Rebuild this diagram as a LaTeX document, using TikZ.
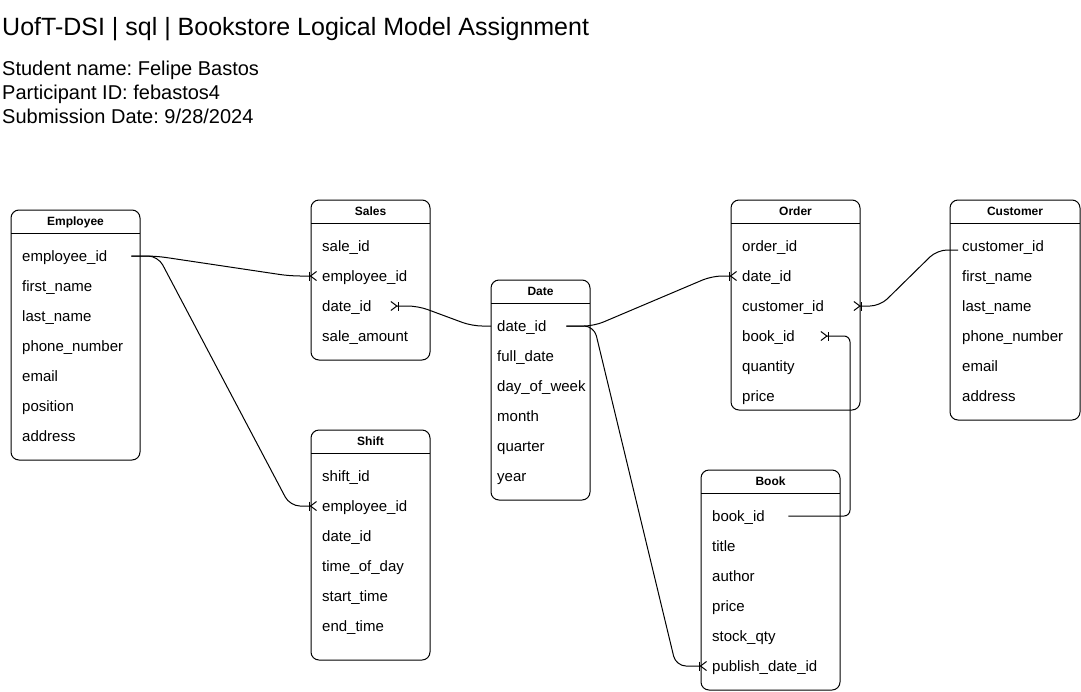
\documentclass[tikz,border=0pt]{standalone}
\usepackage{fontspec}
\setmainfont{Liberation Sans}
\usepackage{tikz}
\usetikzlibrary{arrows.meta, calc}
\frenchspacing
\newcommand{\entitybox}[6]{%
  \draw[entity] (#2, #3) rectangle (#4, #5);
  \draw[line width=1pt] (#2, #3 + 23) -- (#4, #3 + 23);
  \node[head] (#1) at ({(#2 + #4) / 2}, #3 + 15.5) {#6};
}
\tikzset{
  entity/.style={draw, fill=white, rounded corners=8pt, line width=1pt},
  head/.style={anchor=base, inner sep=0pt, font=\fontsize{12}{14}\selectfont\bfseries},
  field/.style={anchor=west, inner xsep=11pt, inner ysep=0pt, text height=13pt,
    text depth=2pt, align=left, font=\fontsize{15}{18}\selectfont},
  rel/.style={line width=1pt, rounded corners=10pt,
    -{Bar[width=9pt, sep=0pt] Straight Barb[reversed, length=6pt, width=9pt]}},
}

\begin{document}
\begin{tikzpicture}[x=1pt, y=-1pt]

  \useasboundingbox (0, 0) rectangle (1081, 691);
  \fill[white] (0, 0) rectangle (1081, 691);

  \node[anchor=base west, inner sep=0pt, font=\fontsize{25}{30}\selectfont] (title)
    at (2, 35) {UofT-DSI | sql | Bookstore Logical Model Assignment};
  \node[anchor=base west, inner sep=0pt, font=\fontsize{20}{24}\selectfont] (student)
    at (2, 75) {Student name: Felipe Bastos};
  \node[anchor=base west, inner sep=0pt, font=\fontsize{20}{24}\selectfont] (participant)
    at (2, 99) {Participant ID: febastos4};
  \node[anchor=base west, inner sep=0pt, font=\fontsize{20}{24}\selectfont] (submission)
    at (2, 123) {Submission Date: 9/28/2024};

  % tables
  \entitybox{employee}{11}{210}{140}{460}{Employee}
  \foreach \f [count=\i] in {employee\_id, first\_name, last\_name, phone\_number,
      email, position, address}
    \node[field, text width=107pt] (emp\i) at (11, 226 + 30 * \i) {\f};

  \entitybox{sales}{311}{200}{430}{360}{Sales}
  \foreach \f [count=\i] in {sale\_id, employee\_id, date\_id, sale\_amount}
    \node[field, text width=97pt] (sales\i) at (311, 216 + 30 * \i) {\f};

  \entitybox{shift}{311}{430}{430}{660}{Shift}
  \foreach \f [count=\i] in {shift\_id, employee\_id, date\_id, time\_of\_day,
      start\_time, end\_time}
    \node[field, text width=97pt] (shift\i) at (311, 446 + 30 * \i) {\f};

  \entitybox{date}{491}{280}{590}{500}{Date}
  \foreach \f [count=\i] in {date\_id, full\_date, day\_of\_week, month, quarter, year}
    \node[field, inner xsep=6pt, text width=87pt] (date\i) at (491, 296 + 30 * \i) {\f};

  \entitybox{order}{731}{200}{860}{410}{Order}
  \foreach \f [count=\i] in {order\_id, date\_id, customer\_id, book\_id, quantity, price}
    \node[field, text width=107pt] (order\i) at (731, 216 + 30 * \i) {\f};

  \entitybox{customer}{950}{200}{1080}{420}{Customer}
  \foreach \f [count=\i] in {customer\_id, first\_name, last\_name, phone\_number,
      email, address}
    \node[field, inner xsep=12pt, text width=106pt] (cust\i) at (950, 216 + 30 * \i) {\f};

  \entitybox{book}{701}{470}{840}{690}{Book}
  \foreach \f [count=\i] in {book\_id, title, author, price, stock\_qty, publish\_date\_id}
    \node[field, text width=117pt] (book\i) at (701, 486 + 30 * \i) {\f};

  % relations
  \draw[rel] ([xshift=-9pt]emp1.east) -- (156, 256) -- (290, 276)
    -- ([xshift=6pt]sales2.west);
  \draw[rel] ([xshift=-9pt]emp1.east) -- (158, 256) -- (290, 506)
    -- ([xshift=6pt]shift2.west);
  \draw[rel] (date1.west) -- (472, 326) -- (418, 306)
    -- ([xshift=-40pt]sales3.east);
  \draw[rel] ([xshift=-24pt]date1.east) -- (594, 326) -- (712, 276)
    -- ([xshift=6pt]order2.west);
  \draw[rel] ([xshift=-24pt]date1.east) -- (594, 326) -- (676, 666)
    -- ([xshift=6pt]book6.west);
  \draw[rel] ([xshift=8pt, yshift=-4pt]cust1.west) -- (937, 250) -- (880, 306)
    -- ([xshift=-7pt]order3.east);
  \draw[rel, rounded corners=6pt] ([xshift=-52pt]book1.east) -- (850, 516)
    -- (850, 336) -- ([xshift=-40pt]order4.east);

\end{tikzpicture}
\end{document}
